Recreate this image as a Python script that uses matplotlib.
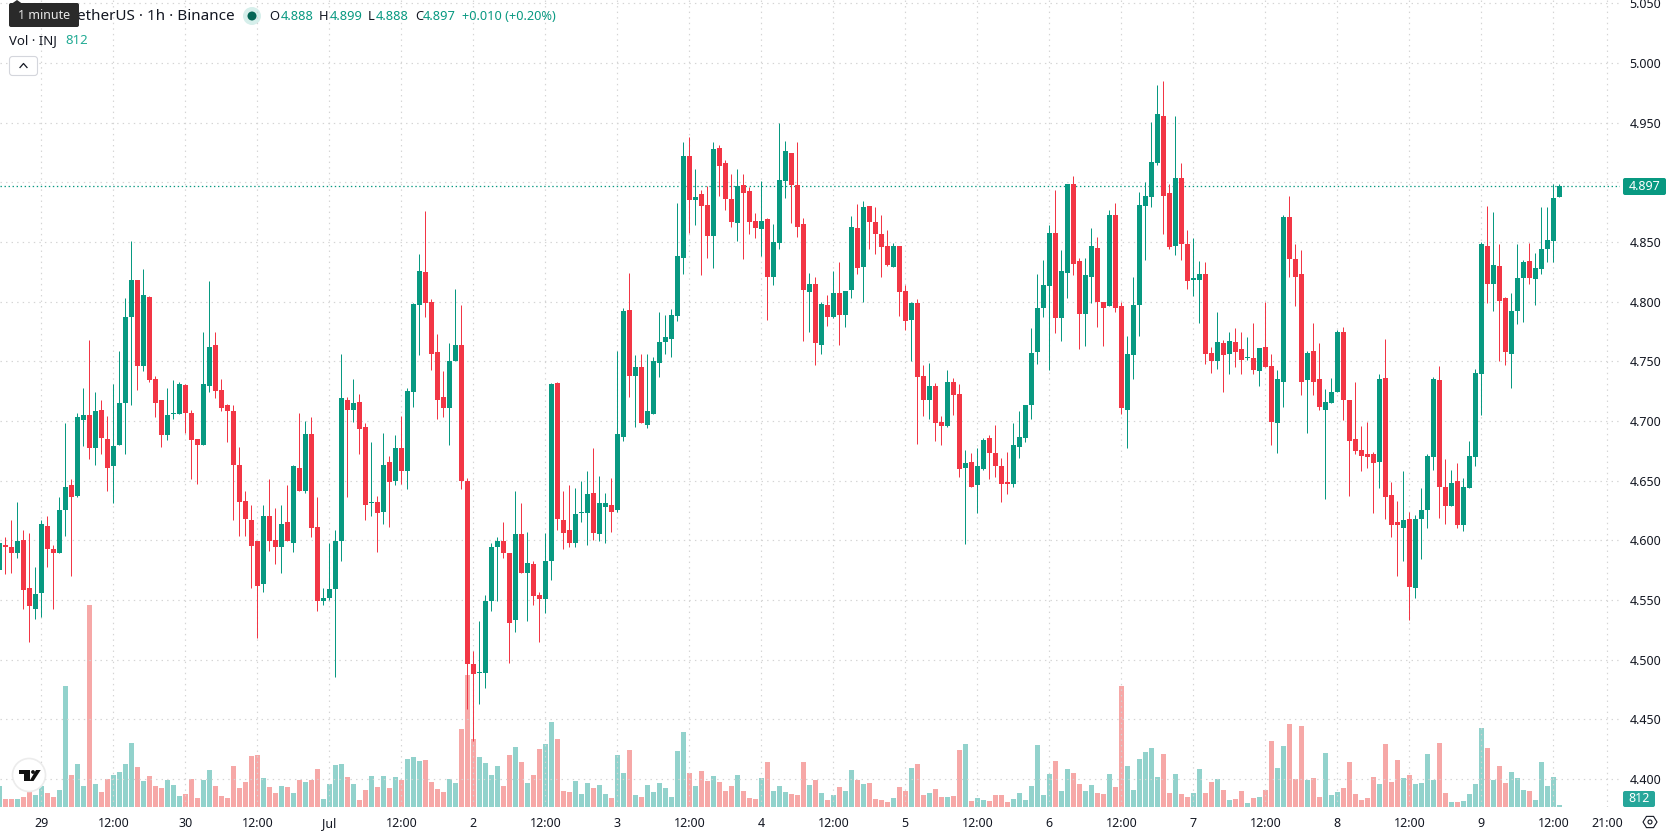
import numpy as np
import matplotlib
matplotlib.use("Agg")
import matplotlib.pyplot as plt
from matplotlib.patches import Circle, FancyBboxPatch, Polygon

plt.rcParams['font.family'] = ['Noto Sans', 'DejaVu Sans']
plt.rcParams['lines.scale_dashes'] = False

# hourly INJ/USDT candles, first one starts 28 Jun 18:00
opens = [
    4.575,4.596,4.594,4.589,4.600,4.560,4.542,4.556,4.612,4.593,
    4.589,4.625,4.646,4.637,4.701,4.705,4.677,4.709,4.685,4.662,
    4.680,4.715,4.787,4.818,4.746,4.804,4.735,4.718,4.688,4.706,
    4.706,4.730,4.707,4.685,4.680,4.729,4.764,4.726,4.713,4.708,
    4.663,4.633,4.617,4.599,4.563,4.620,4.600,4.594,4.615,4.598,
    4.661,4.641,4.689,4.611,4.549,4.552,4.559,4.599,4.718,4.709,
    4.716,4.695,4.631,4.632,4.624,4.666,4.650,4.677,4.658,4.724,
    4.797,4.825,4.800,4.758,4.720,4.711,4.750,4.764,4.650,4.496,
    4.489,4.489,4.549,4.594,4.599,4.589,4.533,4.605,4.573,4.580,
    4.554,4.551,4.583,4.732,4.617,4.609,4.598,4.623,4.623,4.640,
    4.605,4.628,4.630,4.625,4.687,4.793,4.738,4.745,4.697,4.706,
    4.749,4.766,4.769,4.788,4.837,4.922,4.885,4.890,4.881,4.855,
    4.929,4.916,4.886,4.866,4.898,4.893,4.868,4.861,4.869,4.821,
    4.849,4.901,4.925,4.898,4.865,4.808,4.815,4.764,4.797,4.787,
    4.807,4.789,4.810,4.862,4.829,4.880,4.867,4.857,4.847,4.829,
    4.847,4.809,4.785,4.799,4.738,4.718,4.729,4.699,4.696,4.733,
    4.723,4.661,4.666,4.646,4.660,4.686,4.673,4.662,4.649,4.647,
    4.678,4.686,4.713,4.758,4.795,4.813,4.858,4.786,4.824,4.899,
    4.834,4.790,4.821,4.845,4.800,4.796,4.873,4.796,4.709,4.755,
    4.797,4.880,4.888,4.916,4.956,4.891,4.847,4.904,4.848,4.818,
    4.818,4.823,4.757,4.750,4.765,4.756,4.766,4.760,4.753,4.753,
    4.742,4.762,4.746,4.698,4.733,4.871,4.836,4.823,4.734,4.759,
    4.735,4.709,4.715,4.724,4.775,4.718,4.685,4.676,4.672,4.672,
    4.666,4.736,4.638,4.615,4.610,4.618,4.560,4.618,4.625,4.670,
    4.734,4.645,4.629,4.650,4.613,4.644,4.670,4.739,4.847,4.815,
    4.830,4.803,4.756,4.792,4.820,4.834,4.819,4.827,4.844,4.851,
    4.888]

closes = [
    4.598,4.594,4.589,4.599,4.558,4.545,4.555,4.614,4.593,4.589,
    4.625,4.645,4.636,4.703,4.705,4.677,4.708,4.686,4.661,4.679,
    4.715,4.787,4.818,4.746,4.806,4.734,4.715,4.688,4.705,4.707,
    4.731,4.707,4.684,4.680,4.731,4.762,4.725,4.711,4.708,4.663,
    4.632,4.618,4.595,4.562,4.620,4.599,4.594,4.614,4.599,4.662,
    4.641,4.689,4.610,4.549,4.552,4.559,4.599,4.719,4.709,4.715,
    4.693,4.630,4.632,4.623,4.663,4.649,4.677,4.658,4.725,4.798,
    4.826,4.799,4.756,4.718,4.711,4.750,4.764,4.650,4.496,4.488,
    4.490,4.549,4.594,4.599,4.589,4.531,4.605,4.573,4.581,4.553,
    4.551,4.583,4.731,4.618,4.606,4.598,4.622,4.624,4.639,4.606,
    4.631,4.631,4.624,4.689,4.792,4.738,4.745,4.698,4.708,4.750,
    4.766,4.770,4.789,4.838,4.922,4.885,4.888,4.880,4.855,4.928,
    4.914,4.886,4.867,4.897,4.891,4.867,4.862,4.868,4.821,4.850,
    4.902,4.926,4.898,4.863,4.810,4.815,4.765,4.798,4.787,4.807,
    4.789,4.809,4.863,4.828,4.879,4.867,4.857,4.846,4.831,4.847,
    4.808,4.784,4.799,4.737,4.718,4.729,4.698,4.696,4.733,4.722,
    4.660,4.665,4.645,4.662,4.684,4.673,4.662,4.647,4.647,4.680,
    4.687,4.713,4.757,4.795,4.814,4.858,4.786,4.826,4.899,4.832,
    4.790,4.822,4.847,4.800,4.795,4.873,4.795,4.711,4.756,4.797,
    4.881,4.889,4.917,4.957,4.889,4.846,4.904,4.848,4.817,4.820,
    4.823,4.756,4.750,4.766,4.755,4.767,4.758,4.751,4.754,4.743,
    4.761,4.745,4.699,4.735,4.871,4.836,4.821,4.733,4.757,4.733,
    4.712,4.716,4.724,4.775,4.718,4.683,4.675,4.671,4.670,4.665,
    4.735,4.636,4.613,4.613,4.617,4.561,4.618,4.625,4.671,4.735,
    4.645,4.629,4.648,4.613,4.645,4.671,4.740,4.848,4.815,4.831,
    4.801,4.758,4.792,4.820,4.833,4.820,4.828,4.844,4.852,4.887,
    4.897]

highs = [
    4.600,4.603,4.617,4.632,4.609,4.606,4.578,4.617,4.620,4.596,
    4.636,4.698,4.651,4.707,4.728,4.768,4.724,4.718,4.704,4.731,
    4.759,4.803,4.851,4.818,4.827,4.805,4.738,4.718,4.728,4.734,
    4.733,4.731,4.709,4.685,4.775,4.817,4.775,4.735,4.714,4.713,
    4.678,4.641,4.630,4.599,4.630,4.651,4.627,4.630,4.646,4.663,
    4.707,4.700,4.703,4.636,4.560,4.598,4.609,4.756,4.720,4.735,
    4.723,4.698,4.682,4.637,4.690,4.671,4.688,4.704,4.728,4.799,
    4.840,4.876,4.802,4.773,4.742,4.765,4.811,4.797,4.652,4.507,
    4.532,4.554,4.598,4.603,4.615,4.589,4.641,4.631,4.607,4.583,
    4.557,4.606,4.732,4.733,4.641,4.646,4.644,4.650,4.658,4.677,
    4.654,4.640,4.652,4.759,4.795,4.824,4.755,4.756,4.756,4.754,
    4.791,4.789,4.794,4.883,4.934,4.938,4.911,4.894,4.897,4.934,
    4.931,4.919,4.907,4.911,4.907,4.896,4.874,4.901,4.870,4.865,
    4.950,4.935,4.925,4.934,4.870,4.824,4.821,4.800,4.806,4.826,
    4.833,4.809,4.872,4.882,4.884,4.880,4.879,4.873,4.860,4.849,
    4.847,4.814,4.800,4.802,4.747,4.749,4.732,4.704,4.743,4.736,
    4.731,4.676,4.673,4.677,4.686,4.688,4.697,4.669,4.674,4.698,
    4.708,4.713,4.778,4.823,4.835,4.864,4.894,4.843,4.899,4.905,
    4.837,4.837,4.862,4.854,4.800,4.877,4.883,4.800,4.771,4.821,
    4.892,4.900,4.951,4.982,4.985,4.899,4.956,4.916,4.860,4.853,
    4.834,4.833,4.762,4.791,4.768,4.775,4.778,4.775,4.770,4.782,
    4.761,4.800,4.756,4.743,4.873,4.889,4.848,4.843,4.759,4.782,
    4.765,4.727,4.736,4.776,4.779,4.718,4.733,4.696,4.699,4.674,
    4.739,4.769,4.649,4.633,4.658,4.624,4.621,4.644,4.672,4.737,
    4.746,4.668,4.659,4.665,4.652,4.683,4.744,4.850,4.880,4.875,
    4.848,4.804,4.807,4.848,4.835,4.849,4.841,4.879,4.879,4.899,
    4.899]

lows = [
    4.572,4.572,4.573,4.585,4.542,4.515,4.534,4.536,4.578,4.542,
    4.589,4.604,4.570,4.636,4.679,4.668,4.663,4.672,4.641,4.631,
    4.680,4.672,4.713,4.726,4.742,4.733,4.703,4.678,4.684,4.702,
    4.706,4.690,4.651,4.647,4.680,4.724,4.719,4.708,4.682,4.617,
    4.604,4.604,4.560,4.518,4.557,4.591,4.580,4.573,4.599,4.590,
    4.641,4.640,4.603,4.541,4.546,4.550,4.485,4.583,4.636,4.699,
    4.672,4.617,4.620,4.590,4.614,4.611,4.646,4.647,4.643,4.712,
    4.755,4.787,4.743,4.702,4.703,4.680,4.750,4.643,4.459,4.432,
    4.463,4.476,4.541,4.549,4.585,4.497,4.523,4.573,4.532,4.546,
    4.515,4.539,4.567,4.609,4.593,4.594,4.594,4.615,4.596,4.600,
    4.599,4.598,4.607,4.624,4.683,4.720,4.695,4.698,4.694,4.706,
    4.737,4.756,4.754,4.784,4.823,4.858,4.864,4.822,4.837,4.828,
    4.889,4.877,4.863,4.851,4.836,4.857,4.853,4.838,4.785,4.814,
    4.844,4.887,4.866,4.854,4.767,4.775,4.747,4.756,4.780,4.786,
    4.764,4.779,4.803,4.823,4.800,4.844,4.840,4.821,4.830,4.829,
    4.788,4.776,4.750,4.681,4.704,4.702,4.683,4.680,4.695,4.705,
    4.653,4.597,4.645,4.623,4.659,4.651,4.653,4.632,4.639,4.645,
    4.669,4.682,4.702,4.748,4.787,4.743,4.774,4.767,4.803,4.822,
    4.760,4.763,4.799,4.779,4.763,4.796,4.791,4.706,4.677,4.735,
    4.771,4.835,4.879,4.915,4.857,4.844,4.839,4.835,4.811,4.805,
    4.782,4.748,4.740,4.744,4.724,4.739,4.745,4.739,4.751,4.739,
    4.729,4.745,4.680,4.673,4.712,4.821,4.796,4.722,4.690,4.722,
    4.709,4.635,4.715,4.724,4.701,4.637,4.672,4.658,4.661,4.623,
    4.644,4.618,4.603,4.570,4.583,4.533,4.552,4.584,4.610,4.659,
    4.619,4.614,4.629,4.610,4.608,4.644,4.662,4.705,4.799,4.792,
    4.750,4.747,4.728,4.781,4.783,4.815,4.797,4.823,4.833,4.833,
    4.888]

# volume in thousands of INJ
volumes = [
    8.4,3.2,3.2,3.2,4.0,6.0,4.8,8.4,5.6,4.0,6.8,48.4,12.8,17.2,8.4,80.8,9.2,6.0,11.2,12.8,
    14.0,17.2,25.6,16.0,10.4,12.4,8.4,7.6,10.8,8.8,4.4,5.2,11.2,3.6,10.8,14.8,8.4,4.4,3.6,16.4,
    7.6,10.0,20.4,20.8,11.6,8.0,5.6,8.4,8.0,5.6,10.8,10.0,10.8,15.2,3.2,9.2,16.8,17.2,12.0,9.2,
    2.8,6.8,12.4,8.0,12.4,7.6,12.0,10.8,19.2,20.0,18.4,18.8,10.0,7.2,6.0,11.2,9.6,31.2,52.8,27.2,
    20.0,17.6,12.8,16.4,8.4,20.8,24.0,18.0,9.6,12.8,23.2,25.2,34.0,27.2,
    6.4,6.0,10.4,5.2,9.6,7.6,8.8,5.2,3.6,20.8,13.6,22.8,4.8,4.0,8.8,6.0,9.6,7.6,4.0,22.4,
    30.0,13.6,8.4,14.4,10.4,12.4,10.0,6.4,8.4,12.8,6.4,3.6,3.2,11.6,18.0,6.4,8.4,6.0,5.2,4.8,
    18.0,8.8,10.8,5.6,2.8,4.8,8.0,6.4,14.8,10.8,9.2,9.6,3.2,2.8,2.0,3.6,8.0,6.4,15.6,17.2,
    4.8,5.6,7.2,4.0,4.0,4.4,22.8,25.2,2.4,3.6,2.8,2.4,4.8,4.8,2.0,3.2,5.6,2.8,8.4,24.8,
    4.8,13.2,18.4,6.4,15.2,13.6,9.2,6.4,8.8,5.6,5.2,13.2,8.0,
    48.4,16.4,6.8,19.2,22.0,23.6,12.0,21.2,5.6,13.2,5.2,4.0,5.6,15.2,5.6,10.0,11.2,6.8,2.8,3.2,
    6.4,1.6,3.6,4.0,6.8,26.4,15.6,24.4,33.2,11.2,32.4,10.8,11.6,4.0,21.6,4.8,6.0,7.6,18.0,5.2,
    2.8,3.6,12.0,9.2,25.2,10.0,18.8,11.6,12.8,9.2,9.6,21.2,10.8,25.6,5.6,2.0,2.0,2.4,5.2,9.2,
    31.6,23.6,10.8,16.4,9.6,14.0,11.6,6.8,6.4,2.8,18.0,8.4,12.0,0.812]

time_labels = ['29','12:00','30','12:00','Jul','12:00','2','12:00','3','12:00','4','12:00',
               '5','12:00','6','12:00','7','12:00','8','12:00','9','12:00','21:00']
time_ticks = [7 + 12*n for n in range(22)] + [268]
price_ticks = [4.40,4.45,4.50,4.55,4.60,4.65,4.70,4.75,4.80,4.85,4.90,4.95,5.00,5.05]

GREEN = '#089981'
RED = '#f23645'
GRID = '#d4d4d4'
TEXT = '#131722'

W, H = 1678, 835
PLOT_W, PLOT_H = 1620, 807

# helpers for the chrome around the chart, in pixels from the top left
def fx(x):
    return x / W

def fy(y):
    return 1 - y / H

def round_box(x0, y0, x1, y1, face, edge, lw=0.0, radius=2.0, z=4):
    box = FancyBboxPatch((x0/100, (H-y1)/100), (x1-x0)/100, (y1-y0)/100, transform=fig.dpi_scale_trans,
                         boxstyle='round,pad=0,rounding_size=%f' % (radius/100),
                         facecolor=face, edgecolor=edge, linewidth=lw, zorder=z)
    fig.add_artist(box)

o = np.array(opens)
c = np.array(closes)
hi = np.array(highs)
lo = np.array(lows)
vol = np.array(volumes)
hours = np.arange(len(o))
up = c >= o

fig = plt.figure(figsize=(W/100, H/100), dpi=100, facecolor='white')
pos = [0, 1 - PLOT_H/H, PLOT_W/W, PLOT_H/H]

# price pane on top, volume pane underneath it
ax = fig.add_axes(pos, zorder=2)
ax.patch.set_visible(False)
ax_vol = fig.add_axes(pos, zorder=1, sharex=ax)
ax_vol.set_axis_off()

ax_vol.bar(hours[up], vol[up], width=5/6, color='#26a69a', alpha=0.5, linewidth=0)
ax_vol.bar(hours[~up], vol[~up], width=5/6, color='#ef5350', alpha=0.5, linewidth=0)
ax_vol.set_ylim(0, PLOT_H*0.4)

colors = np.where(up, GREEN, RED)
wicks = ax.vlines(hours, lo, hi, colors=colors, linewidth=0.72, zorder=3)
wicks.set_snap(True)
ax.bar(hours, np.abs(c - o), bottom=np.minimum(o, c), width=5/6, color=colors, linewidth=0, zorder=4)

ax.set_xlim(0.117, 270.117)
ax.set_ylim(4.8 - (PLOT_H - 301.7)/1193, 4.8 + 301.7/1193)

ax.set_yticks(price_ticks)
ax.set_yticklabels(['%.3f' % p for p in price_ticks], fontsize=9, color=TEXT)
for lab, p in zip(ax.get_yticklabels(), price_ticks):
    if round(p*1000) % 100 == 0:
        lab.set_fontweight('bold')
ax.yaxis.tick_right()
ax.tick_params(axis='y', length=0, pad=7)

ax.set_xticks(time_ticks)
ax.set_xticklabels(time_labels, fontsize=9, color=TEXT)
for lab in ax.get_xticklabels():
    if lab.get_text() == 'Jul':
        lab.set_fontweight('bold')
ax.tick_params(axis='x', length=0, pad=7)

ax.grid(True, color=GRID, linewidth=0.85, linestyle=(0, (1.0, 3.0)))
ax.set_axisbelow(True)
for s in ax.spines.values():
    s.set_visible(False)

# last price line and its tag
ax.axhline(c[-1], color=GREEN, linewidth=0.9, linestyle=(0, (1.0, 1.9)), zorder=2)
round_box(1623, 178, 1666, 195, GREEN, GREEN)
fig.text(fx(1645), fy(186.5), '%.3f' % c[-1], color='white', fontsize=9, ha='center', va='center', zorder=5)

# volume tag
round_box(1623, 791, 1655, 807, '#26a69a', '#26a69a')
fig.text(fx(1639), fy(799), '812', color='white', fontsize=9, ha='center', va='center', zorder=5)

# legend rows
fig.text(fx(235), fy(16), 'etherUS · 1h · Binance', fontsize=11, color=TEXT, ha='right', va='center')
fig.add_artist(Circle((252/100, (H-16)/100), 9/100, transform=fig.dpi_scale_trans, facecolor='#d6efeb', edgecolor='none'))
fig.add_artist(Circle((252/100, (H-16)/100), 4.5/100, transform=fig.dpi_scale_trans, facecolor='#056656', edgecolor='none'))
ohlc = [('O', 269.5, opens[-1], 280.5), ('H', 319, highs[-1], 330), ('L', 368, lows[-1], 375.5), ('C', 415, closes[-1], 423)]
for name, x1, val, x2 in ohlc:
    fig.text(fx(x1), fy(16), name, fontsize=9.3, color=TEXT, va='center')
    fig.text(fx(x2), fy(16), '%.3f' % val, fontsize=9.3, color=GREEN, va='center')
fig.text(fx(462), fy(16), '+0.010 (+0.20%)', fontsize=9.2, color=GREEN, va='center')
fig.text(fx(9), fy(41), 'Vol · INJ', fontsize=9.5, color=TEXT, va='center')
fig.text(fx(65), fy(41), '812', fontsize=9.5, color='#22ab94', va='center')

# tooltip over the legend title
round_box(9, 3, 79, 27, '#2a2a2a', '#2a2a2a', z=4)
fig.add_artist(Polygon([(fx(12), fy(3.5)), (fx(17), fy(0)), (fx(22), fy(3.5))], transform=fig.transFigure,
                       facecolor='#2a2a2a', edgecolor='none', zorder=4))
fig.text(fx(44), fy(15.5), '1 minute', color='#e8e8e8', fontsize=9, ha='center', va='center', zorder=5)

# collapse button
round_box(9.5, 56.5, 37.5, 75.5, 'white', '#d4d6dc', lw=0.8, radius=3)
fig.add_artist(plt.Line2D([fx(20), fx(23.5), fx(27)], [fy(67.5), fy(63.5), fy(67.5)], color=TEXT,
                          linewidth=0.9, transform=fig.transFigure, zorder=5))

# logo badge
fig.add_artist(Circle((29/100, (H-775)/100), 16.5/100, transform=fig.dpi_scale_trans, facecolor='white', edgecolor='#ececec', linewidth=1.2, zorder=3))
logo = [[(18.7, 770), (29.5, 770), (29.5, 781), (24, 781), (24, 773.5), (18.7, 773.5)],
        [(36, 770), (40.7, 770), (33.5, 781), (29.5, 781)]]
for pts in logo:
    fig.add_artist(Polygon([(fx(a), fy(b)) for a, b in pts], transform=fig.transFigure,
                           facecolor='#111111', edgecolor='none', zorder=4))
fig.add_artist(Circle((33/100, (H-772)/100), 1.9/100, transform=fig.dpi_scale_trans, facecolor='#111111', edgecolor='none', zorder=4))

# settings icon in the corner
angles = np.deg2rad([0, 60, 120, 180, 240, 300])
fig.add_artist(Polygon([(fx(1650 + 7*np.cos(t)), fy(822 + 6.5*np.sin(t))) for t in angles],
                       transform=fig.transFigure, facecolor='none', edgecolor=TEXT, linewidth=0.8))
fig.add_artist(Circle((1650/100, (H-822)/100), 2/100, transform=fig.dpi_scale_trans, facecolor='none', edgecolor=TEXT, linewidth=0.8))

fig.savefig('out.png', dpi=100)
